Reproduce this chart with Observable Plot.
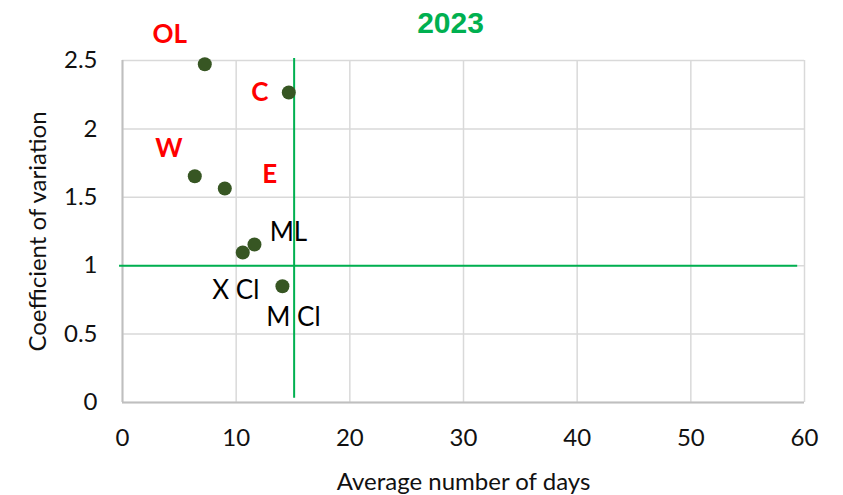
<!DOCTYPE html>
<html><head><meta charset="utf-8">
<script src="https://cdn.jsdelivr.net/npm/d3@7"></script>
<script src="https://cdn.jsdelivr.net/npm/@observablehq/plot@0.6"></script>
<style>body{margin:0;background:#fff}</style>
</head><body><div id="chart"></div>
<script>
// Data
const names = ["OL", "C", "W", "E", "X Cl", "ML", "M Cl"];
const avgDays = [7.24, 14.63, 6.36, 9.0, 10.58, 11.61, 14.07];
const coefVar = [2.473, 2.266, 1.654, 1.564, 1.096, 1.155, 0.850];
const highlighted = [true, true, true, true, false, false, false];
const xTicks = [0, 10, 20, 30, 40, 50, 60];
const yTicks = [0, 0.5, 1, 1.5, 2, 2.5];
const refDays = 15.1;
const refCV = 1;
const titleText = "2023";
const xTitle = "Average number of days";
const yTitle = "Coefficient of variation";

// Layout (label offsets in px relative to each point)
const labelOffsets = [[-35, -30], [-29, 0.5], [-26, -28], [45, -14], [-7, 38.5], [34, -12], [11, 31]];

const data = names.map((n, i) => ({name: n, x: avgDays[i], y: coefVar[i], hi: highlighted[i]}));

const labelMarks = data.map((d, i) => Plot.text([d], {
  x: "x", y: "y", text: "name",
  dx: labelOffsets[i][0], dy: labelOffsets[i][1],
  fill: d.hi ? "#ff0000" : "#000000",
  fontWeight: d.hi ? "bold" : "normal",
  fontSize: 26
}));

const chart = Plot.plot({
  width: 843,
  height: 495,
  marginLeft: 122,
  marginRight: 39,
  marginTop: 60,
  marginBottom: 93,
  style: {fontFamily: "Lato", fontSize: "24px", color: "#111", background: "#fff", overflow: "visible"},
  x: {domain: [0, 60], label: null},
  y: {domain: [0, 2.5], label: null},
  marks: [
    Plot.gridX(xTicks, {stroke: "#d9d9d9", strokeOpacity: 1, strokeWidth: 1.5}),
    Plot.gridY(yTicks, {stroke: "#d9d9d9", strokeOpacity: 1, strokeWidth: 1.5}),
    Plot.ruleX([0], {stroke: "#bfbfbf", strokeWidth: 2}),
    Plot.ruleY([0], {stroke: "#bfbfbf", strokeWidth: 2}),
    Plot.axisX(xTicks, {tickSize: 0, tickPadding: 26, label: null, fontSize: 24, tickFormat: d => String(d)}),
    Plot.axisY(yTicks, {tickSize: 0, tickPadding: 25, label: null, fontSize: 24, tickFormat: d => String(d)}),
    Plot.ruleY([refCV], {x1: -0.26, x2: 59.4, stroke: "#00b050", strokeWidth: 2}),
    Plot.ruleX([refDays], {y1: 0.031, y2: 2.515, stroke: "#00b050", strokeWidth: 2}),
    Plot.dot(data, {x: "x", y: "y", r: 7, fill: "#375623", stroke: "none"}),
    ...labelMarks,
    Plot.text([titleText], {frameAnchor: "top", dx: -13, dy: -37, lineAnchor: "middle", textAnchor: "middle",
      fill: "#00b050", fontWeight: "bold", fontSize: 30, fontFamily: "Liberation Sans"}),
    Plot.text([xTitle], {frameAnchor: "bottom", dy: 80, lineAnchor: "middle", textAnchor: "middle", fontSize: 24}),
    Plot.text([yTitle], {frameAnchor: "left", dx: -84, rotate: -90, lineAnchor: "middle", textAnchor: "middle", fontSize: 24})
  ]
});
document.getElementById("chart").appendChild(chart);
</script>
</body></html>
